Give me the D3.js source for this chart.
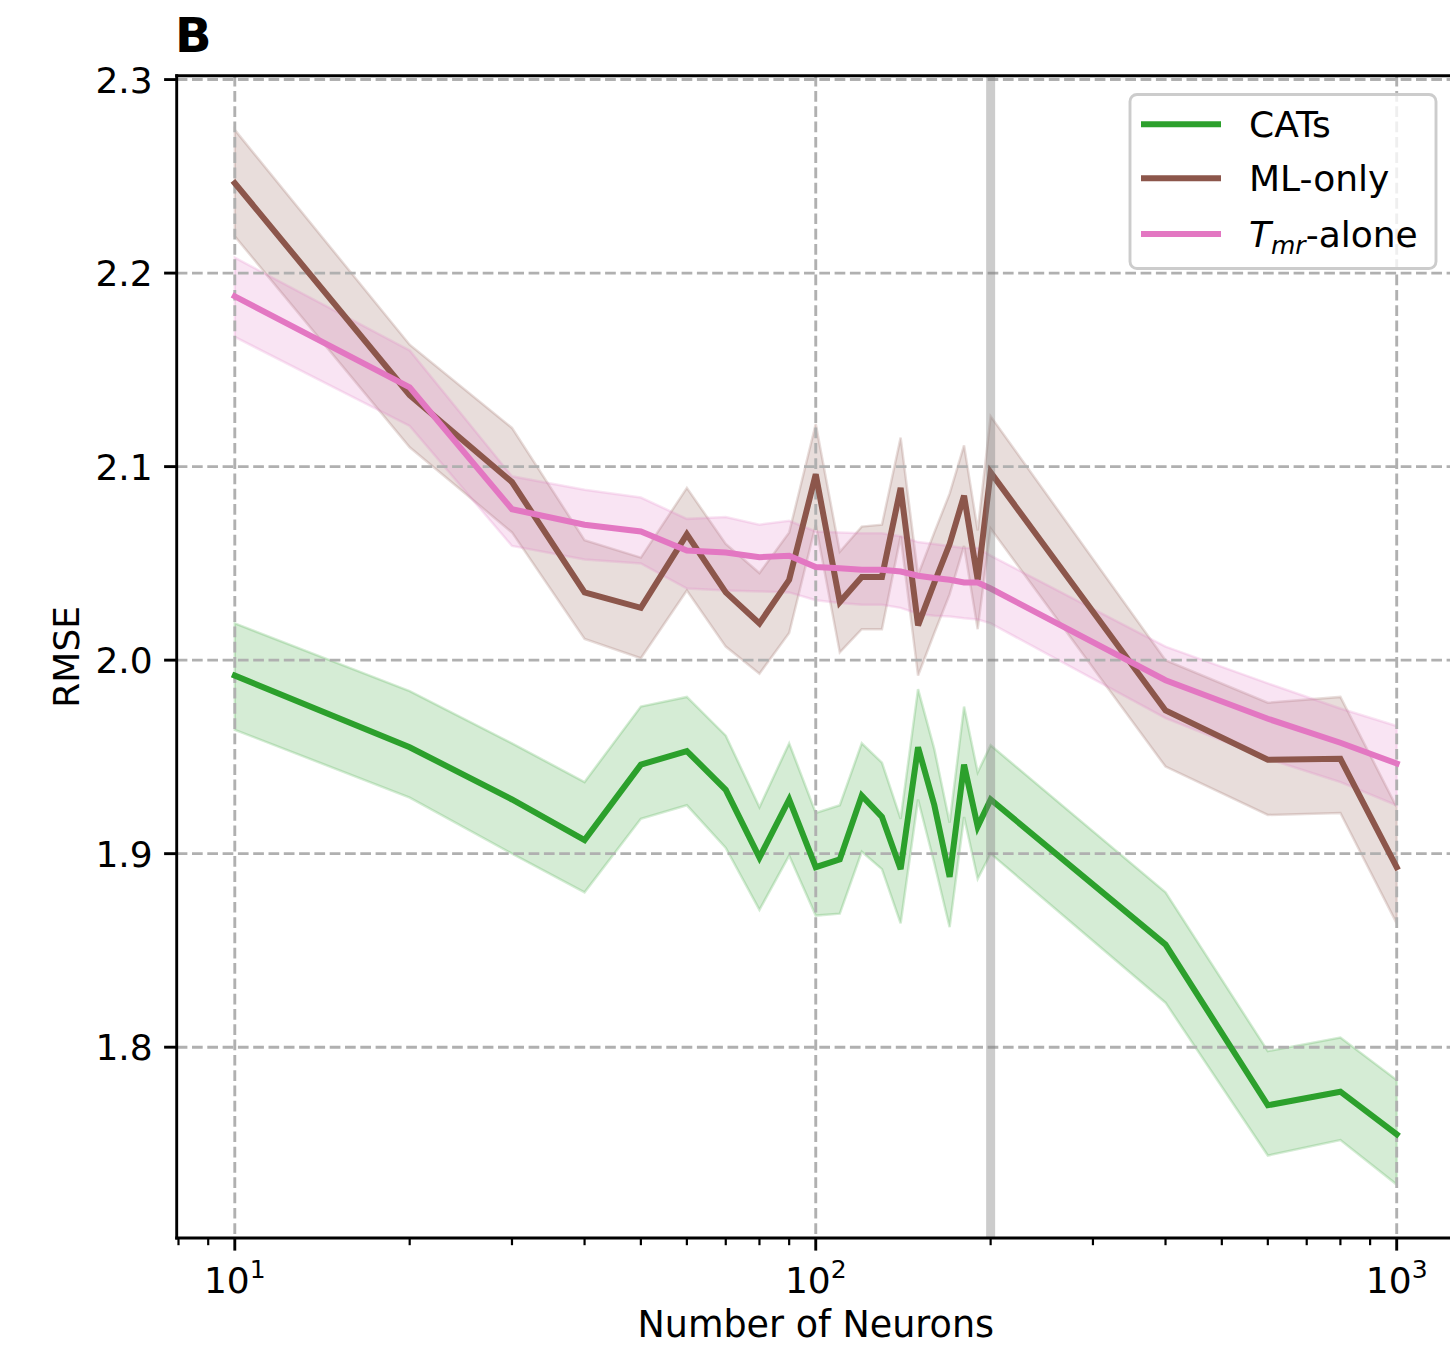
<!DOCTYPE html>
<html>
<head>
<meta charset="utf-8">
<script src="https://cdn.jsdelivr.net/npm/d3@7"></script>
<style>
  html, body { margin: 0; padding: 0; background: #fff; }
  svg { display: block; font-family: "DejaVu Sans", sans-serif; }
</style>
</head>
<body>
<svg id="chart" width="1450" height="1345"></svg>
<script>
// Network sizes evaluated
const neurons = [10, 20, 30, 40, 50, 60, 70, 80, 90, 100, 110, 120, 130, 140, 150, 160, 170, 180, 190, 200, 400, 600, 800, 1000];

// CATs: mean RMSE with upper / lower band
const catsMean  = [1.992, 1.955, 1.928, 1.907, 1.946, 1.953, 1.933, 1.898, 1.928, 1.893, 1.897, 1.930, 1.919, 1.892, 1.955, 1.925, 1.888, 1.946, 1.914, 1.928, 1.853, 1.770, 1.777, 1.755];
const catsUpper = [2.019, 1.984, 1.957, 1.937, 1.976, 1.981, 1.961, 1.924, 1.957, 1.921, 1.925, 1.957, 1.947, 1.918, 1.985, 1.954, 1.916, 1.976, 1.942, 1.956, 1.880, 1.798, 1.805, 1.783];
const catsLower = [1.964, 1.929, 1.900, 1.880, 1.918, 1.925, 1.903, 1.871, 1.899, 1.868, 1.869, 1.901, 1.892, 1.864, 1.928, 1.895, 1.862, 1.919, 1.887, 1.900, 1.823, 1.744, 1.752, 1.729];

// ML-only
const mlMean  = [2.2465, 2.137, 2.092, 2.035, 2.027, 2.065, 2.035, 2.019, 2.0415, 2.096, 2.030, 2.043, 2.043, 2.089, 2.018, 2.040, 2.060, 2.085, 2.0415, 2.097, 1.974, 1.9485, 1.949, 1.893];
const mlUpper = [2.274, 2.163, 2.120, 2.062, 2.053, 2.089, 2.060, 2.045, 2.066, 2.122, 2.056, 2.069, 2.070, 2.115, 2.044, 2.066, 2.086, 2.111, 2.067, 2.126, 2.000, 1.978, 1.981, 1.924];
const mlLower = [2.219, 2.110, 2.066, 2.011, 2.001, 2.036, 2.007, 1.993, 2.014, 2.070, 2.004, 2.016, 2.016, 2.064, 1.992, 2.014, 2.034, 2.059, 2.016, 2.068, 1.945, 1.920, 1.921, 1.864];

// T_mr-alone
const tmrMean  = [2.188, 2.141, 2.078, 2.070, 2.0665, 2.0566, 2.0556, 2.0532, 2.0539, 2.0481, 2.0475, 2.0467, 2.0467, 2.0458, 2.0436, 2.0424, 2.0415, 2.0401, 2.0401, 2.037, 1.9896, 1.9697, 1.9573, 1.9466];
const tmrUpper = [2.208, 2.160, 2.095, 2.088, 2.084, 2.073, 2.074, 2.070, 2.072, 2.0665, 2.066, 2.0656, 2.0656, 2.064, 2.061, 2.060, 2.059, 2.058, 2.058, 2.054, 2.007, 1.988, 1.975, 1.966];
const tmrLower = [2.167, 2.121, 2.059, 2.052, 2.050, 2.037, 2.036, 2.0355, 2.035, 2.031, 2.0295, 2.0286, 2.0286, 2.027, 2.024, 2.023, 2.0225, 2.0216, 2.021, 2.019, 1.970, 1.949, 1.937, 1.925];

const yTicks = [1.8, 1.9, 2.0, 2.1, 2.2, 2.3];
const xMajor = [10, 100, 1000];
const xMinor = [8, 9, 20, 30, 40, 50, 60, 70, 80, 90, 200, 300, 400, 500, 600, 700, 800, 900];
const highlightN = 200;

const series = [
  { name: "CATs",    color: "#2ca02c", mean: catsMean, upper: catsUpper, lower: catsLower },
  { name: "ML-only", color: "#8c564b", mean: mlMean,   upper: mlUpper,   lower: mlLower },
  { name: "Tmr",     color: "#e377c2", mean: tmrMean,  upper: tmrUpper,  lower: tmrLower }
];

// Plot frame (right edge runs past the page)
const L = 176.7, R = 1454.8, T = 75.7, B = 1238;
const x = d3.scaleLog().domain([Math.pow(10, 0.9), Math.pow(10, 3.1)]).range([L, R]);
const y = d3.scaleLinear().domain([1.7014, 2.302]).range([B, T]);

const svg = d3.select("#chart");
svg.append("defs").append("clipPath").attr("id", "plot")
  .append("rect").attr("x", L).attr("y", T).attr("width", R - L).attr("height", B - T);

const plot = svg.append("g").attr("clip-path", "url(#plot)");

// Shaded bands
const area = d3.area()
  .x((d, i) => x(neurons[i]))
  .y0(d => y(d[1]))
  .y1(d => y(d[0]));
series.forEach(s => {
  const pts = neurons.map((n, i) => [s.upper[i], s.lower[i]]);
  plot.append("path")
    .attr("d", area(pts))
    .attr("fill", s.color).attr("fill-opacity", 0.2)
    .attr("stroke", s.color).attr("stroke-opacity", 0.2)
    .attr("stroke-width", 2.5);
});

// Dashed grid
const grid = plot.append("g")
  .attr("stroke", "#b0b0b0").attr("stroke-width", 2.9)
  .attr("stroke-dasharray", "10.7,4.6");
yTicks.forEach(v => grid.append("line").attr("x1", L).attr("x2", R).attr("y1", y(v)).attr("y2", y(v)));
xMajor.forEach(v => grid.append("line").attr("x1", x(v)).attr("x2", x(v)).attr("y1", T).attr("y2", B));

// Mean lines
const line = d3.line().x((d, i) => x(neurons[i])).y(d => y(d));
series.forEach(s => {
  plot.append("path")
    .attr("d", line(s.mean))
    .attr("fill", "none").attr("stroke", s.color)
    .attr("stroke-width", 6).attr("stroke-linejoin", "miter").attr("stroke-linecap", "square");
});

// Highlighted network size
plot.append("line")
  .attr("x1", x(highlightN)).attr("x2", x(highlightN)).attr("y1", T).attr("y2", B)
  .attr("stroke", "gray").attr("stroke-opacity", 0.4).attr("stroke-width", 9);

// Spines
const spine = (x1, y1, x2, y2) => svg.append("line")
  .attr("x1", x1).attr("y1", y1).attr("x2", x2).attr("y2", y2)
  .attr("stroke", "#000").attr("stroke-width", 2.9).attr("stroke-linecap", "square");
spine(L, T, L, B);
spine(L, B, R, B);
spine(L, T, R, T);

// Y ticks and labels
const yAxis = svg.append("g");
yTicks.forEach(v => {
  yAxis.append("line").attr("x1", L - 12.6).attr("x2", L).attr("y1", y(v)).attr("y2", y(v))
    .attr("stroke", "#000").attr("stroke-width", 2.9);
  yAxis.append("text").attr("x", L - 24).attr("y", y(v) + 13)
    .attr("text-anchor", "end").attr("font-size", 36).attr("fill", "#000")
    .text(d3.format(".1f")(v));
});

// X ticks and labels
const xAxis = svg.append("g");
xMinor.forEach(v => {
  xAxis.append("line").attr("x1", x(v)).attr("x2", x(v)).attr("y1", B).attr("y2", B + 7.2)
    .attr("stroke", "#000").attr("stroke-width", 2.2);
});
xMajor.forEach(v => {
  xAxis.append("line").attr("x1", x(v)).attr("x2", x(v)).attr("y1", B).attr("y2", B + 12.6)
    .attr("stroke", "#000").attr("stroke-width", 2.9);
  const t = xAxis.append("text").attr("x", x(v)).attr("y", B + 55)
    .attr("text-anchor", "middle").attr("font-size", 36).attr("fill", "#000");
  t.append("tspan").text("10");
  t.append("tspan").attr("font-size", 25).attr("dy", -15).text(String(Math.round(Math.log10(v))));
});

// Axis labels
svg.append("text").attr("x", x(100)).attr("y", 1337)
  .attr("text-anchor", "middle").attr("font-size", 36.5).attr("fill", "#000")
  .text("Number of Neurons");
svg.append("text").attr("transform", `translate(79,${(T + B) / 2}) rotate(-90)`)
  .attr("text-anchor", "middle").attr("font-size", 36).attr("fill", "#000")
  .text("RMSE");

// Panel letter
svg.append("text").attr("x", 175).attr("y", 52).attr("font-size", 48).attr("font-weight", "bold")
  .attr("fill", "#000").text("B");

// Legend
const lg = svg.append("g");
lg.append("rect").attr("x", 1130).attr("y", 94.5).attr("width", 306).attr("height", 174).attr("rx", 7)
  .attr("fill", "#fff").attr("fill-opacity", 0.8).attr("stroke", "#cccccc").attr("stroke-width", 2.9);
const rows = [124.3, 178.3, 234];
series.forEach((s, i) => {
  lg.append("line").attr("x1", 1141).attr("x2", 1221).attr("y1", rows[i]).attr("y2", rows[i])
    .attr("stroke", s.color).attr("stroke-width", 6);
  const t = lg.append("text").attr("x", 1249).attr("y", rows[i] + 13).attr("font-size", 36).attr("fill", "#000");
  if (s.name === "Tmr") {
    t.append("tspan").attr("font-style", "italic").text("T");
    t.append("tspan").attr("font-style", "italic").attr("font-size", 25).attr("dy", 7).text("mr");
    t.append("tspan").attr("dy", -7).text("-alone");
  } else {
    t.text(s.name);
  }
});
</script>
</body>
</html>
